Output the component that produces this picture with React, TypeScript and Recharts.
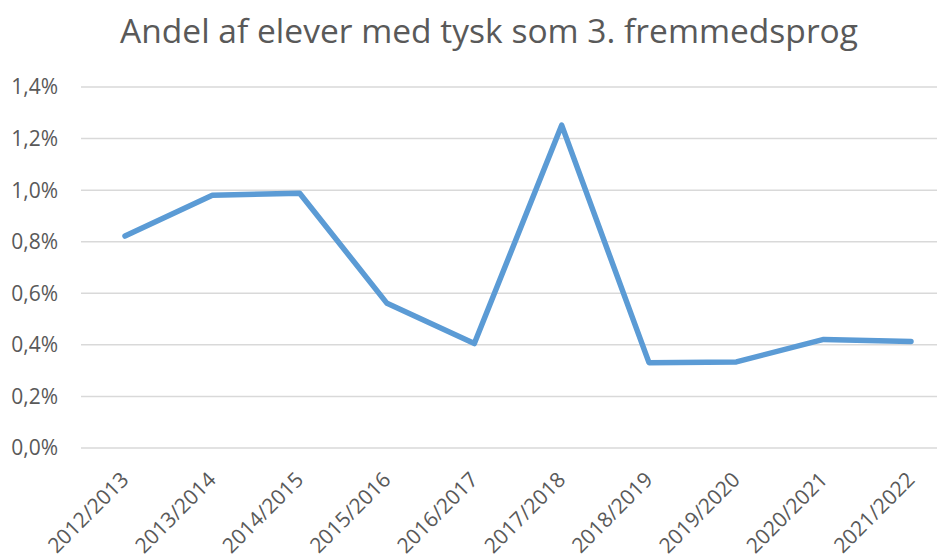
import { LineChart, Line, XAxis, YAxis, CartesianGrid } from 'recharts';

const years = [
  '2012/2013', '2013/2014', '2014/2015', '2015/2016', '2016/2017',
  '2017/2018', '2018/2019', '2019/2020', '2020/2021', '2021/2022',
];
// andel i procent
const shares = [0.822, 0.98, 0.988, 0.561, 0.405, 1.252, 0.331, 0.334, 0.421, 0.413];
const yTicks = [0, 0.2, 0.4, 0.6, 0.8, 1.0, 1.2, 1.4];

const data = years.map((year, i) => ({ year, share: shares[i] }));

const FONT = '"Open Sans", sans-serif';
const GREY = '#595959';

const fmtPct = (v: number) => `${v.toFixed(1).replace('.', ',')}%`;

function YearTick(props: any) {
  const { x, y, payload } = props;
  return (
    <text
      x={x + 5}
      y={y + 31}
      textAnchor="end"
      transform={`rotate(-45 ${x + 5} ${y + 31})`}
      fill={GREY}
      fontSize={21}
      fontFamily={FONT}
    >
      {payload.value}
    </text>
  );
}

export default function App() {
  return (
    <div style={{ position: 'relative', width: 937, height: 551, overflow: 'hidden', background: '#fff' }}>
      <svg width={937} height={60} style={{ position: 'absolute', left: 0, top: 0 }}>
        <text
          x={481}
          y={35}
          textAnchor="middle"
          fill={GREY}
          fontSize={33}
          fontFamily={FONT}
          textLength={738}
          lengthAdjust="spacingAndGlyphs"
        >
          Andel af elever med tysk som 3. fremmedsprog
        </text>
      </svg>
      <LineChart
        width={960}
        height={551}
        data={data}
        margin={{ top: 79, right: 13, bottom: 0, left: 0 }}
      >
        <CartesianGrid vertical={false} stroke="#d9d9d9" strokeWidth={1.5} />
        <XAxis
          dataKey="year"
          axisLine={false}
          tickLine={false}
          tickSize={0}
          interval={0}
          height={111}
          padding={{ left: 44, right: 44 }}
          tick={<YearTick />}
        />
        <YAxis
          width={73}
          domain={[0, 1.4]}
          ticks={yTicks}
          tickFormatter={fmtPct}
          axisLine={false}
          tickLine={false}
          tickSize={0}
          tickMargin={23}
          tick={{ fill: GREY, fontSize: 21, fontFamily: FONT }}
        />
        <Line
          type="linear"
          dataKey="share"
          stroke="#5b9bd5"
          strokeWidth={5.5}
          strokeLinejoin="round"
          strokeLinecap="round"
          dot={false}
          activeDot={false}
          isAnimationActive={false}
        />
      </LineChart>
    </div>
  );
}
